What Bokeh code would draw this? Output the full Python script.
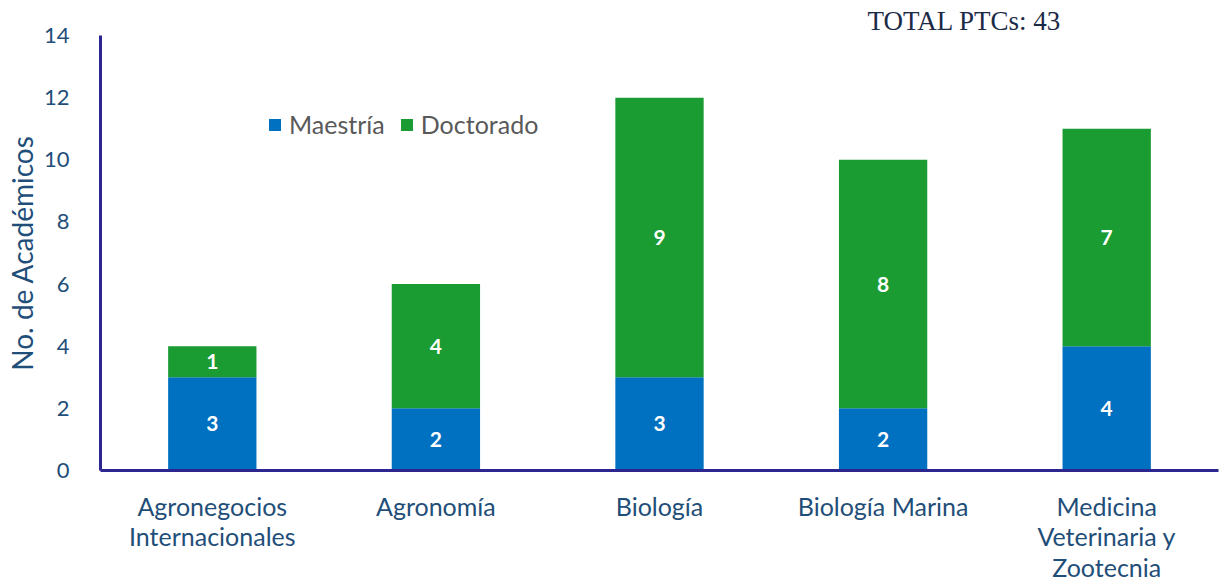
from bokeh.plotting import figure
from bokeh.models import (ColumnDataSource, Range1d, FactorRange, FixedTicker, Legend,
                          LegendItem, LabelSet)
from bokeh.core.properties import value
from bokeh.embed import file_html
from bokeh.resources import INLINE

# ---- data ----
categories = ["Agronegocios\nInternacionales", "Agronomía", "Biología",
              "Biología Marina", "Medicina\nVeterinaria y\nZootecnia"]
maestria = [3, 2, 3, 2, 4]
doctorado = [1, 4, 9, 8, 7]
y_ticks = [0, 2, 4, 6, 8, 10, 12, 14]
series_names = ["Maestría", "Doctorado"]
total_label = "TOTAL PTCs: " + str(sum(maestria) + sum(doctorado))

# ---- styling ----
BLUE = "#0070C0"
GREEN = "#1A9C33"
AXIS = "#2E2690"
TICK_TXT = "#1F4E79"
FONT = "Lato"

src = ColumnDataSource(dict(cat=categories, m=maestria, d=doctorado))

p = figure(width=1221, height=584, x_range=FactorRange(*categories), y_range=Range1d(0, 14),
           output_backend="svg", toolbar_location=None,
           min_border_left=100, min_border_right=3,
           min_border_top=35, min_border_bottom=114)

rs = p.vbar_stack(["m", "d"], x="cat", width=0.395, source=src,
                  color=[BLUE, GREEN], line_alpha=0)

# data labels
m_lab = ColumnDataSource(dict(x=categories, y=[v / 2 for v in maestria],
                              t=[str(v) for v in maestria]))
d_lab = ColumnDataSource(dict(x=categories, y=[m + d / 2 for m, d in zip(maestria, doctorado)],
                              t=[str(v) for v in doctorado]))
for s in (m_lab, d_lab):
    p.add_layout(LabelSet(x="x", y="y", text="t", source=s, text_color="white",
                          text_font=value(FONT), text_font_style="bold",
                          text_font_size="21px", text_align="center",
                          text_baseline="middle"))

# axes
p.xgrid.grid_line_color = None
p.ygrid.grid_line_color = None
p.outline_line_color = None

p.xaxis.axis_line_color = AXIS
p.xaxis.axis_line_width = 3
p.xaxis.major_tick_line_color = None
p.xaxis.minor_tick_line_color = None
p.xaxis.major_label_text_font = FONT
p.xaxis.major_label_text_font_size = "25px"
p.xaxis.major_label_text_color = TICK_TXT
p.xaxis.major_label_text_line_height = 1.02
p.xaxis.major_label_standoff = 14
p.xaxis.major_label_orientation = "horizontal"

p.yaxis.ticker = FixedTicker(ticks=y_ticks)
p.yaxis.axis_line_color = AXIS
p.yaxis.axis_line_width = 3
p.yaxis.major_tick_line_color = None
p.yaxis.minor_tick_line_color = None
p.yaxis.major_label_text_font = FONT
p.yaxis.major_label_text_font_size = "22px"
p.yaxis.major_label_text_color = TICK_TXT
p.yaxis.major_label_standoff = 25
p.yaxis.axis_label = "No. de Académicos"
p.yaxis.axis_label_text_font = FONT
p.yaxis.axis_label_text_font_size = "28px"
p.yaxis.axis_label_text_font_style = "normal"
p.yaxis.axis_label_text_color = TICK_TXT
p.yaxis.axis_label_standoff = 2

# legend
legend = Legend(items=[LegendItem(label=series_names[0], renderers=[rs[0]]),
                       LegendItem(label=series_names[1], renderers=[rs[1]])],
                orientation="horizontal", location=(167, 331),
                glyph_width=15, glyph_height=15, label_text_font=FONT,
                label_text_font_size="25px", label_text_color="#595959",
                spacing=14, label_standoff=7, padding=0, margin=0,
                border_line_alpha=0, background_fill_alpha=0)
p.add_layout(legend)

# total label as title
p.title.text = total_label
p.title.text_font = "Liberation Serif"
p.title.text_font_size = "27px"
p.title.text_font_style = "normal"
p.title.text_color = "#1B2A47"
p.title.align = "left"
p.title.offset = 767
p.title.standoff = 0

open("out.html", "w").write(file_html(p, INLINE))
